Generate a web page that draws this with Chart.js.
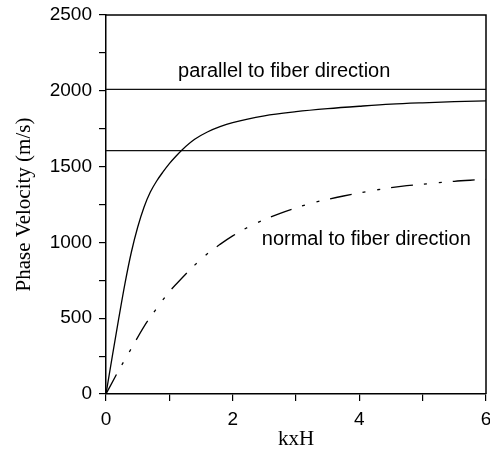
<!DOCTYPE html>
<html>
<head>
<meta charset="utf-8">
<script src="https://cdn.jsdelivr.net/npm/chart.js"></script>
<style>
    html, body { margin: 0; padding: 0; background: #fff; }
    #wrap { width: 490px; height: 452px; }
</style>
</head>
<body>
<div id="wrap"><canvas id="chart" width="490" height="452"></canvas></div>
<script>
// values
const xSolid = [ 0, 0.1, 0.2, 0.3, 0.4, 0.5, 0.6, 0.7, 0.8, 0.9, 1.0, 1.1, 1.2, 1.4, 1.6, 1.8, 2.0, 2.5, 3.0, 3.5, 4.0, 4.5, 5.0, 5.5, 6.0 ];
const vSolid = [ 0, 250, 495, 730, 935, 1100, 1232, 1332, 1405, 1465, 1520, 1567, 1610, 1680, 1728, 1763, 1790, 1835, 1862, 1882, 1898, 1912, 1921, 1928, 1933 ];

const xDash = [ 0, 0.2, 0.4, 0.6, 0.8, 1.0, 1.2, 1.4, 1.6, 1.8, 2.0, 2.25, 2.5, 2.75, 3.0, 3.25, 3.5, 3.75, 4.0, 4.25, 4.5, 4.75, 5.0, 5.25, 5.5, 5.75, 6.0 ];
const vDash = [ 0, 155, 300, 445, 565, 675, 765, 850, 925, 987, 1043, 1102, 1150, 1192, 1228, 1259, 1284, 1306, 1326, 1345, 1361, 1374, 1384, 1394, 1403, 1410, 1416 ];

const xLimits = [ 0, 6 ];
const vParallel = [ 2010, 2010 ];
const vNormal = [ 1605, 1605 ];

const labels = [ 'parallel to fiber direction', 'normal to fiber direction' ];

const sans = '"Liberation Sans", Arial, sans-serif';
const serif = '"Liberation Serif", "Times New Roman", serif';

const pts = ( xs, ys ) => xs.map( ( x, i ) => ( { x: x, y: ys[ i ] } ) );

// frame on top and right of the plot area
const frame = {
    id: 'frame',
    afterDraw ( chart ) {
        const a = chart.chartArea;
        const c = chart.ctx;
        c.save();
        c.strokeStyle = '#000';
        c.lineWidth = 1.5;
        c.beginPath();
        c.moveTo( a.left, a.top );
        c.lineTo( a.right, a.top );
        c.lineTo( a.right, a.bottom );
        c.stroke();
        c.restore();
    }
};

// text notes placed in data units
const notes = {
    id: 'notes',
    afterDatasetsDraw ( chart, args, opts ) {
        const c = chart.ctx;
        const sx = chart.scales.x, sy = chart.scales.y;
        c.save();
        c.fillStyle = '#000';
        c.font = opts.font;
        c.textAlign = 'left';
        c.textBaseline = 'alphabetic';
        opts.items.forEach( ( it ) => {
            c.fillText( it.text, sx.getPixelForValue( it.x ), sy.getPixelForValue( it.y ) );
        } );
        c.restore();
    }
};

new Chart( document.getElementById( 'chart' ), {
    type: 'line',
    data: {
        datasets: [ {
            data: pts( xSolid, vSolid ),
            borderColor: '#000',
            borderWidth: 1.3,
            cubicInterpolationMode: 'monotone',
            pointRadius: 0
        }, {
            data: pts( xDash, vDash ),
            borderColor: '#000',
            borderWidth: 1.3,
            borderDash: [ 22, 11, 3, 12, 3, 11 ],
            cubicInterpolationMode: 'monotone',
            pointRadius: 0
        }, {
            data: pts( xLimits, vParallel ),
            borderColor: '#111',
            borderWidth: 1.2,
            pointRadius: 0
        }, {
            data: pts( xLimits, vNormal ),
            borderColor: '#111',
            borderWidth: 1.2,
            pointRadius: 0
        } ]
    },
    plugins: [ frame, notes ],
    options: {
        responsive: false,
        animation: false,
        layout: { padding: { top: 15, right: 4, left: 0, bottom: 0 } },
        plugins: {
            legend: { display: false },
            tooltip: { enabled: false },
            notes: {
                font: '20px ' + sans,
                items: [
                    { text: labels[ 0 ], x: 1.137, y: 2089 },
                    { text: labels[ 1 ], x: 2.46, y: 982 }
                ]
            }
        },
        scales: {
            x: {
                type: 'linear',
                min: 0,
                max: 6,
                afterFit ( s ) { s.height = 58; s.paddingLeft = 0; s.paddingRight = 0; },
                ticks: {
                    stepSize: 1,
                    autoSkip: false,
                    maxRotation: 0,
                    padding: 7,
                    color: '#000',
                    font: { family: sans, size: 19 },
                    callback: ( v ) => v % 2 === 0 ? String( v ) : ''
                },
                grid: { drawOnChartArea: false, drawTicks: true, tickLength: 7, color: '#000', lineWidth: 1.2 },
                border: { color: '#000', width: 1.5 },
                title: {
                    display: true,
                    text: 'kxH',
                    color: '#000',
                    font: { family: serif, size: 21 },
                    padding: { top: 0, bottom: 0 }
                }
            },
            y: {
                min: 0,
                max: 2500,
                afterFit ( s ) { s.width = 106; s.paddingTop = 0; s.paddingBottom = 0; },
                ticks: {
                    stepSize: 250,
                    autoSkip: false,
                    padding: 7,
                    color: '#000',
                    font: { family: sans, size: 19 },
                    callback: ( v ) => v % 500 === 0 ? String( v ) : ''
                },
                grid: { drawOnChartArea: false, drawTicks: true, tickLength: 7, color: '#000', lineWidth: 1.2 },
                border: { color: '#000', width: 1.5 },
                title: {
                    display: true,
                    text: 'Phase Velocity (m/s)',
                    color: '#000',
                    font: { family: serif, size: 21 },
                    padding: { top: 12, bottom: 0 }
                }
            }
        }
    }
} );
</script>
</body>
</html>
